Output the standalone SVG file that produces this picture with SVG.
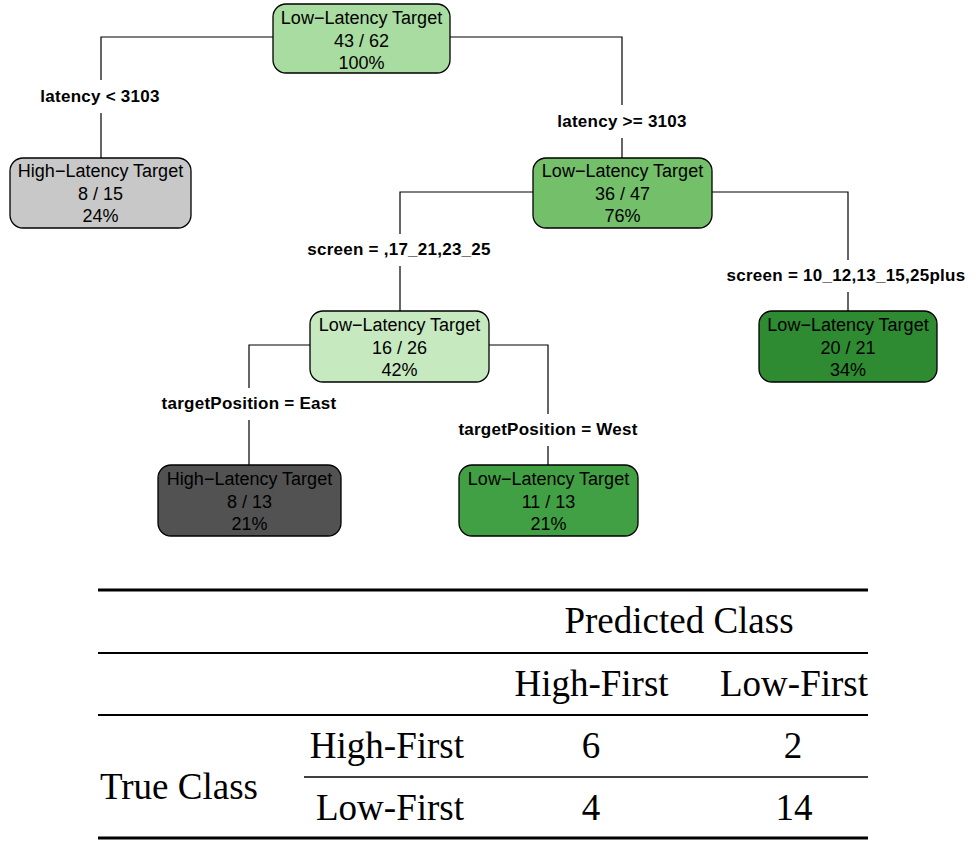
<svg xmlns="http://www.w3.org/2000/svg" width="976" height="845" viewBox="0 0 976 845">
<style>
.n rect{stroke:#000;stroke-width:1.3}
.n text{font-family:"Liberation Sans",Arial,sans-serif;font-size:18px;text-anchor:middle;fill:#000}
.lb{font-family:"Liberation Sans",Arial,sans-serif;font-size:17px;font-weight:bold;text-anchor:middle;fill:#000;letter-spacing:0.25px}
.c path{fill:none;stroke:#000;stroke-width:1.2}
.t{font-family:"Liberation Serif","Times New Roman",serif;font-size:37px;fill:#000}
.m{text-anchor:middle}
.r{text-anchor:end}
</style>
<rect width="976" height="845" fill="#fff"/>
<g class="c" id="connectors">
<path d="M273 37H101V80M101 113V158"/>
<path d="M450 37H622V105M622 138V158"/>
<path d="M533 192H400V234M400 266V311"/>
<path d="M712 192H848V260M848 292V311"/>
<path d="M310 345H249V388M249 420V465"/>
<path d="M489 345H548V414M548 446V465"/>
</g>
<g id="labels">
<text class="lb" x="100" y="102">latency &lt; 3103</text>
<text class="lb" x="622" y="127">latency &gt;= 3103</text>
<text class="lb" x="399" y="255">screen = ,17_21,23_25</text>
<text class="lb" x="846" y="281">screen = 10_12,13_15,25plus</text>
<text class="lb" x="249" y="409">targetPosition = East</text>
<text class="lb" x="548" y="435">targetPosition = West</text>
</g>
<g class="n" id="root"><rect x="273" y="4" width="177" height="69" rx="13" fill="#A8DCA0"/>
<text x="361.5" y="24">Low−Latency Target</text><text x="361.5" y="47">43 / 62</text><text x="361.5" y="69">100%</text></g>
<g class="n" id="n2"><rect x="10" y="158" width="181" height="70" rx="13" fill="#C8C8C8"/>
<text x="100.5" y="177">High−Latency Target</text><text x="100.5" y="200">8 / 15</text><text x="100.5" y="222">24%</text></g>
<g class="n" id="n3"><rect x="533" y="158" width="179" height="70" rx="13" fill="#73BF6A"/>
<text x="622.5" y="177">Low−Latency Target</text><text x="622.5" y="200">36 / 47</text><text x="622.5" y="222">76%</text></g>
<g class="n" id="n6"><rect x="310" y="311" width="179" height="71" rx="13" fill="#C7E9C0"/>
<text x="399.5" y="331">Low−Latency Target</text><text x="399.5" y="354">16 / 26</text><text x="399.5" y="376">42%</text></g>
<g class="n" id="n7"><rect x="759" y="311" width="178" height="71" rx="13" fill="#2E8B31"/>
<text x="848" y="331">Low−Latency Target</text><text x="848" y="354">20 / 21</text><text x="848" y="376">34%</text></g>
<g class="n" id="n12"><rect x="158" y="465" width="183" height="71" rx="13" fill="#525252"/>
<text x="249.5" y="485">High−Latency Target</text><text x="249.5" y="508">8 / 13</text><text x="249.5" y="530">21%</text></g>
<g class="n" id="n13"><rect x="459" y="465" width="179" height="71" rx="13" fill="#41A043"/>
<text x="548.5" y="485">Low−Latency Target</text><text x="548.5" y="508">11 / 13</text><text x="548.5" y="530">21%</text></g>
<g id="table">
<path d="M98 590H868M98 838H868" stroke="#000" stroke-width="3"/>
<path d="M98 653H868M98 715H868" stroke="#000" stroke-width="2"/>
<path d="M304 777H868" stroke="#000" stroke-width="1.5"/>
<text class="t m" x="679" y="633">Predicted Class</text>
<text class="t m" x="591.5" y="696">High-First</text>
<text class="t m" x="794" y="696">Low-First</text>
<text class="t r" x="464" y="758">High-First</text>
<text class="t m" x="591" y="758">6</text>
<text class="t m" x="793" y="758">2</text>
<text class="t" x="100" y="799">True Class</text>
<text class="t r" x="464" y="820">Low-First</text>
<text class="t m" x="591" y="820">4</text>
<text class="t m" x="794" y="820">14</text>
</g>
</svg>
